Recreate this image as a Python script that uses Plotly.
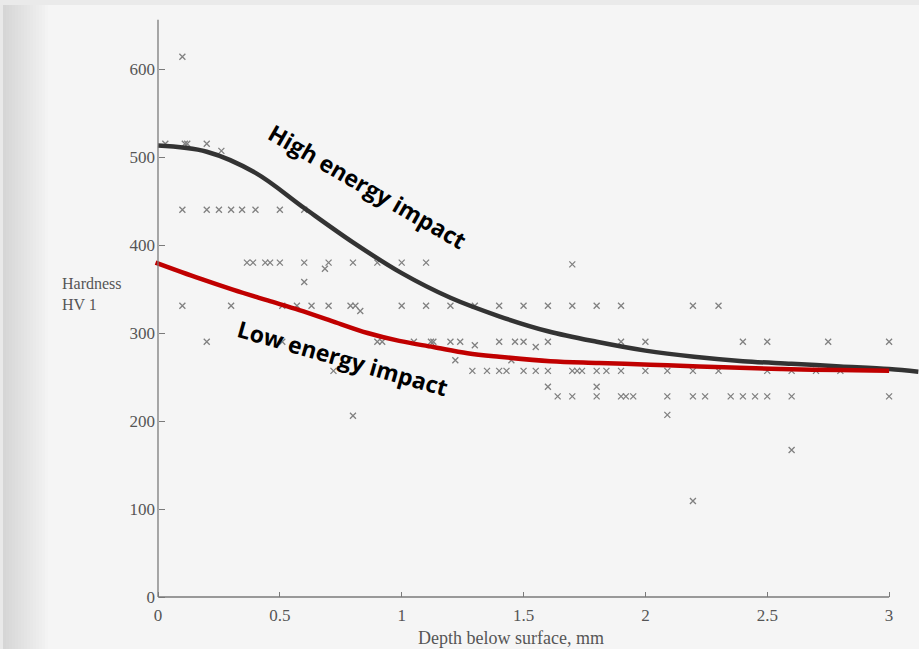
import plotly.graph_objects as go

# ---------------- data ----------------
# scatter measurements (depth mm, hardness HV1)
pts_x = [
    0.10,
    0.03, 0.11, 0.12, 0.20, 0.26,
    0.10, 0.20, 0.25, 0.30, 0.345, 0.40, 0.50, 0.60,
    0.365, 0.39, 0.44, 0.46, 0.50, 0.60, 0.70, 0.80, 0.90, 1.00, 1.10, 1.70, 0.685,
    0.60,
    0.10, 0.30, 0.51, 0.57, 0.63, 0.70, 0.79, 0.81, 1.00, 1.10, 1.20, 1.30, 1.40, 1.50,
    1.60, 1.70, 1.80, 1.90, 2.195, 2.30, 0.83,
    0.20, 0.51, 0.90, 0.92, 1.05, 1.12, 1.13, 1.20, 1.24, 1.30, 1.40, 1.465, 1.50, 1.55,
    1.60, 1.90, 2.00, 2.40, 2.50, 2.75, 3.00,
    1.22, 1.45,
    0.72, 1.29, 1.35, 1.40, 1.43, 1.50, 1.55, 1.60, 1.70, 1.72, 1.74, 1.80, 1.84, 1.90,
    2.00, 2.09, 2.195, 2.30, 2.50, 2.60, 2.70, 2.80,
    1.60, 1.80,
    1.64, 1.70, 1.80, 1.90, 1.92, 1.95, 2.09, 2.195, 2.245, 2.35, 2.40, 2.45, 2.50, 2.60, 3.00,
    2.09, 0.80,
    2.60,
    2.195,
]
pts_y = [
    614,
    515, 515, 515, 515, 507,
    440, 440, 440, 440, 440, 440, 440, 440,
    380, 380, 380, 380, 380, 380, 380, 380, 380, 380, 380, 378, 373,
    358,
    331, 331, 331, 331, 331, 331, 331, 331, 331, 331, 331, 331, 331, 331,
    331, 331, 331, 331, 331, 331, 325,
    290, 290, 290, 290, 290, 290, 290, 290, 290, 286, 290, 290, 290, 284,
    290, 290, 290, 290, 290, 290, 290,
    269, 269,
    257, 257, 257, 257, 257, 257, 257, 257, 257, 257, 257, 257, 257, 257,
    257, 257, 257, 257, 257, 257, 257, 257,
    239, 239,
    228, 228, 228, 228, 228, 228, 228, 228, 228, 228, 228, 228, 228, 228, 228,
    207, 206,
    167,
    109,
]

# fitted curves
high_x = [0, 0.2, 0.4, 0.6, 0.8, 1.0, 1.2, 1.4, 1.6, 1.8, 2.0,
          2.2, 2.4, 2.6, 2.8, 3.0, 3.12]
high_y = [513, 506, 482, 442, 403, 368, 340, 319, 302, 290, 280,
          273, 268, 265, 262, 259, 256]

low_x = [-0.01, 0.17, 0.31, 0.45, 0.58, 0.72, 0.86, 0.99, 1.13, 1.27, 1.40, 1.61,
         1.81, 2.02, 2.22, 2.56, 3.0]
low_y = [380, 362, 349, 337, 326, 313, 300, 291, 284, 277, 273, 268,
         266, 264, 262, 259, 257]

x_ticks = [0, 0.5, 1, 1.5, 2, 2.5, 3]
x_ticktext = ["0", "0.5", "1", "1.5", "2", "2.5", "3"]
y_ticks = [0, 100, 200, 300, 400, 500, 600]

# ---------------- figure ----------------
W, H = 919, 649
ML, MR, MT, MB = 150, 0, 15, 44
X0PX, XPX_PER = 158, 243.7   # pixel of x=0, pixels per mm
Y0PX, YPX_PER = 597, 0.88    # pixel of y=0, pixels per HV

xr = [(ML - X0PX) / XPX_PER, (W - MR - X0PX) / XPX_PER]
yr = [(Y0PX - (H - MB)) / YPX_PER, (Y0PX - MT) / YPX_PER]


def px(xp):
    return (xp - ML) / (W - ML - MR)


def py(yp):
    return ((H - MB) - yp) / (H - MT - MB)


serif = "Liberation Serif, Times New Roman, serif"

fig = go.Figure()

fig.add_trace(go.Scatter(
    x=pts_x, y=pts_y, mode="markers",
    marker=dict(symbol="x-thin", size=6, line=dict(width=1.3, color="#808080")),
    hoverinfo="skip", showlegend=False))

fig.add_trace(go.Scatter(
    x=high_x, y=high_y, mode="lines", line=dict(color="#333333", width=4.5, shape="spline",
                                                 smoothing=1.0),
    showlegend=False))

fig.add_trace(go.Scatter(
    x=low_x, y=low_y, mode="lines", line=dict(color="#c00000", width=4.5, shape="spline"),
    showlegend=False))

shapes = []
# scanned-page shading: soft gradient on the left edge, light band on top
shapes.append(dict(type="rect", xref="paper", yref="paper", x0=px(0), x1=px(3),
                   y0=py(H), y1=py(0), fillcolor="#e9e9e9", line=dict(width=0), layer="below"))
start, stop, step = 3, 48, 3
n = (stop - start) // step
for i in range(n):
    a = start + i * step
    g = int(0xd6 + (0xf3 - 0xd6) * i / (n - 1))
    shapes.append(dict(type="rect", xref="paper", yref="paper", x0=px(a), x1=px(a + step),
                       y0=py(H), y1=py(0), fillcolor=f"rgb({g},{g},{g})",
                       line=dict(width=0), layer="below"))
shapes.append(dict(type="rect", xref="paper", yref="paper", x0=px(0), x1=px(W),
                   y0=py(5), y1=py(0), fillcolor="#eaeaea", line=dict(width=0), layer="below"))

# axis lines (x axis ends at 3 mm, y axis at ~656 HV)
shapes.append(dict(type="line", xref="x", yref="y", x0=0, x1=0, y0=0, y1=656,
                   line=dict(color="#7a7a7a", width=1.3)))
shapes.append(dict(type="line", xref="x", yref="y", x0=0, x1=3, y0=0, y1=0,
                   line=dict(color="#7a7a7a", width=1.3)))

fig.update_layout(
    width=W, height=H, autosize=False,
    margin=dict(l=ML, r=MR, t=MT, b=MB),
    paper_bgcolor="#f5f5f5", plot_bgcolor="rgba(0,0,0,0)",
    shapes=shapes,
    xaxis=dict(range=xr, anchor="free", position=py(Y0PX), showgrid=False, zeroline=False,
               showline=False, tickvals=x_ticks, ticktext=x_ticktext, ticks="inside",
               ticklen=5, tickcolor="#7a7a7a", tickwidth=1.2, ticklabelstandoff=6,
               tickfont=dict(family=serif, size=17, color="#555555")),
    yaxis=dict(range=yr, anchor="free", position=px(X0PX), showgrid=False, zeroline=False,
               showline=False, tickvals=y_ticks, ticks="inside", ticklen=6,
               tickcolor="#7a7a7a", tickwidth=1.2, ticklabelstandoff=3,
               tickfont=dict(family=serif, size=17, color="#555555")),
    annotations=[
        dict(xref="paper", yref="paper", x=px(60), y=py(294), xanchor="left",
             yanchor="middle", align="left", showarrow=False,
             text="Hardness<br>HV 1", font=dict(family=serif, size=16, color="#555555")),
        dict(xref="paper", yref="paper", x=px(511), y=py(638), xanchor="center",
             yanchor="middle", showarrow=False,
             text="Depth below surface, mm", font=dict(family=serif, size=18, color="#555555")),
        dict(xref="paper", yref="paper", x=px(367), y=py(186), xanchor="center",
             yanchor="middle", showarrow=False, textangle=30,
             text="<b>High energy impact</b>",
             font=dict(family="Open Sans, sans-serif", size=23, color="#000000")),
        dict(xref="paper", yref="paper", x=px(343), y=py(358), xanchor="center",
             yanchor="middle", showarrow=False, textangle=16,
             text="<b>Low energy impact</b>",
             font=dict(family="Open Sans, sans-serif", size=23, color="#000000")),
    ],
)

fig.write_html("out.html")
